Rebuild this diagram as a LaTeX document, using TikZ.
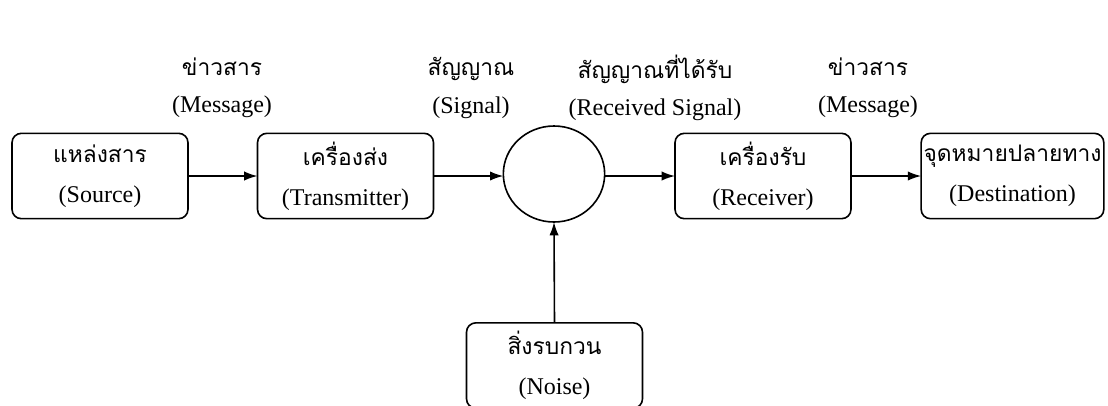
\documentclass[tikz,border=0pt]{standalone}
\usepackage{fontspec}
\setmainfont{Liberation Serif}
\newfontfamily\thaifont[Script=Thai,Scale=0.95]{Loma}
\usetikzlibrary{arrows.meta,shapes.geometric}

\begin{document}
\begin{tikzpicture}[x=0.75pt,y=-0.75pt,inner sep=0pt,outer sep=0pt,line width=1.2pt,
>={Latex[length=10pt,width=7pt]},
blk/.style={draw,rectangle,rounded corners=7pt,minimum width=132pt,minimum height=64pt,
  align=center,font=\fontsize{18}{30}\selectfont},
lbl/.style={align=center,font=\fontsize{18}{28}\selectfont}]
\useasboundingbox (0,0) rectangle (1108,405);

\draw (100,176) node[blk] (src) {{\thaifont แหล่งสาร}\\(Source)};
\draw (345.5,176) node[blk] (tx) {{\thaifont เครื่องส่ง}\\(Transmitter)};
\draw (554,174) node[draw,ellipse,minimum width=76pt,minimum height=72pt] (chan) {};
\draw (763,176) node[blk] (rx) {{\thaifont เครื่องรับ}\\(Receiver)};
\draw (1012.5,176) node[blk,minimum width=137pt] (dst) {{\thaifont จุดหมายปลายทาง}\\(Destination)};
\draw (554.5,365.5) node[blk] (noise) {{\thaifont สิ่งรบกวน}\\(Noise)};

% what travels along each link
\draw (222,88) node[lbl] (msgin) {{\thaifont ข่าวสาร}\\(Message)};
\draw (471,88) node[lbl] (sig) {{\thaifont สัญญาณ}\\(Signal)};
\draw (655,88) node[lbl] (rsig) {{\thaifont สัญญาณที่ได้รับ}\\(Received Signal)};
\draw (868,88) node[lbl] (msgout) {{\thaifont ข่าวสาร}\\(Message)};

\draw[->] (src) -- (tx);
\draw[->] (tx) -- (chan.west |- tx.east);
\draw[->] (chan.east |- rx.west) -- (rx);
\draw[->] (rx) -- (dst);
\draw[->] (noise.north) -- (chan.south);
\end{tikzpicture}
\end{document}
